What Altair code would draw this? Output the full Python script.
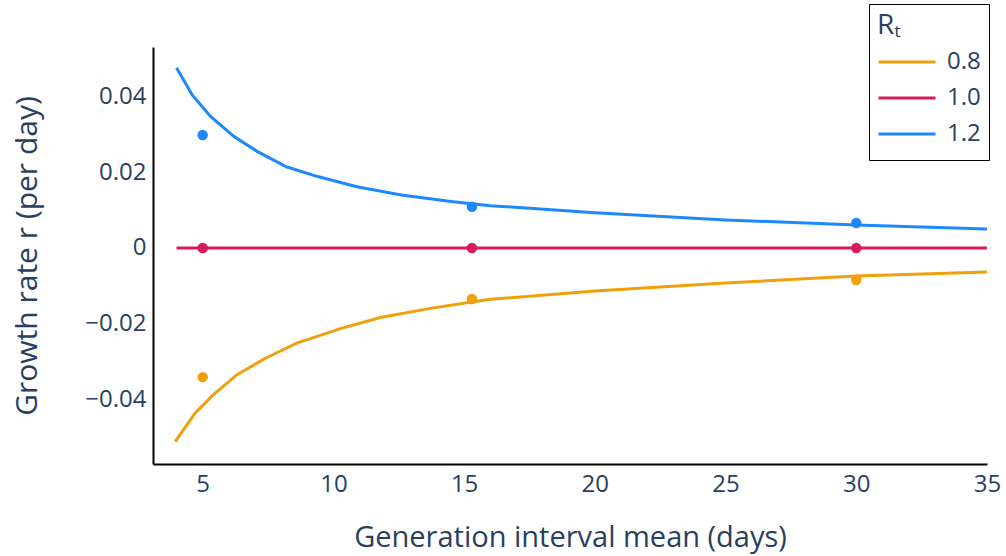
import altair as alt
import pandas as pd

# Curves
t_curve = [4, 4.6, 5.3, 6.2, 7.1, 8.2, 9.4, 10.9, 12.6, 14.5, 16, 20, 25, 30, 35]
r_12 = [0.0477, 0.0405, 0.0348, 0.0295, 0.0255, 0.0215, 0.0189, 0.0162, 0.0140, 0.0123, 0.0112, 0.0093, 0.0074, 0.0061, 0.0050]
t_curve_o = [3.95, 4.7, 5.4, 6.3, 7.4, 8.6, 10.3, 11.8, 13.7, 16, 20, 25, 30, 35]
r_08 = [-0.0513, -0.0438, -0.0389, -0.0336, -0.0292, -0.0252, -0.0213, -0.0184, -0.0160, -0.0136, -0.0114, -0.0093, -0.0074, -0.0064]
t_curve_r = [4, 35]
r_10 = [0.0, 0.0]

# Points
t_pts = [5, 15.3, 30]
p_12 = [0.0299, 0.0109, 0.0066]
p_10 = [0.0, 0.0, 0.0]
p_08 = [-0.0342, -0.0135, -0.0085]

series = ["0.8", "1.0", "1.2"]
colors = ["#EFA00B", "#D81B5A", "#1E88FF"]

lines = pd.concat([
    pd.DataFrame({"t": t_curve_o, "r": r_08, "Rt": "0.8"}),
    pd.DataFrame({"t": t_curve_r, "r": r_10, "Rt": "1.0"}),
    pd.DataFrame({"t": t_curve, "r": r_12, "Rt": "1.2"}),
])
pts = pd.concat([
    pd.DataFrame({"t": t_pts, "r": p_08, "Rt": "0.8"}),
    pd.DataFrame({"t": t_pts, "r": p_10, "Rt": "1.0"}),
    pd.DataFrame({"t": t_pts, "r": p_12, "Rt": "1.2"}),
])

FONT = "Open Sans"
TXT = "#2a3f5f"

xs = alt.Scale(domain=[3.1, 35], nice=False, zero=False)
ys = alt.Scale(domain=[-0.0572, 0.0532], nice=False, zero=False)
cs = alt.Scale(domain=series, range=colors)

x_ax = alt.Axis(values=[5, 10, 15, 20, 25, 30, 35], format="d", ticks=False, grid=False,
                domainColor="black", domainWidth=2, labelFontSize=24, labelColor=TXT,
                labelFont=FONT, labelPadding=8, title="Generation interval mean (days)",
                titleFontSize=29, titleColor=TXT, titleFont=FONT, titleFontWeight="normal",
                titlePadding=27, labelFlush=False)
y_ax = alt.Axis(values=[-0.04, -0.02, 0, 0.02, 0.04], ticks=False, grid=False,
                labelExpr="datum.value == 0 ? '0' : replace(format(datum.value, '.2f'), '-', '\u2212')",
                domainColor="black", domainWidth=2, labelFontSize=24, labelColor=TXT,
                labelFont=FONT, labelPadding=7, title="Growth rate r (per day)",
                titleFontSize=30, titleColor=TXT, titleFont=FONT, titleFontWeight="normal",
                titlePadding=42)

legend = alt.Legend(title="R\u209c", orient="none", legendX=716, legendY=-43,
                    symbolType="stroke", symbolSize=3249, symbolStrokeWidth=3,
                    labelFontSize=24, labelColor=TXT, labelFont=FONT,
                    labelExpr="datum.label + '  '",
                    titleFontSize=28, titleColor=TXT, titleFont=FONT, titleFontWeight="normal",
                    strokeColor="black", padding=8, rowPadding=0, labelOffset=10,
                    clipHeight=36, titlePadding=4)

line = alt.Chart(lines).mark_line(strokeWidth=3).encode(
    x=alt.X("t:Q", scale=xs, axis=x_ax),
    y=alt.Y("r:Q", scale=ys, axis=y_ax),
    color=alt.Color("Rt:N", scale=cs, legend=legend),
)
dots = alt.Chart(pts).mark_circle(size=110, opacity=1).encode(
    x=alt.X("t:Q", scale=xs),
    y=alt.Y("r:Q", scale=ys),
    color=alt.Color("Rt:N", scale=cs, legend=None),
)

chart = alt.layer(line, dots).properties(
    width=834, height=417,
    autosize=alt.AutoSizeParams(type="none"),
    padding={"left": 153, "top": 47, "right": 19, "bottom": 92},
).configure(background="white").configure_view(stroke=None)

chart.save("out.html", embed_options={"renderer": "svg", "actions": False})
